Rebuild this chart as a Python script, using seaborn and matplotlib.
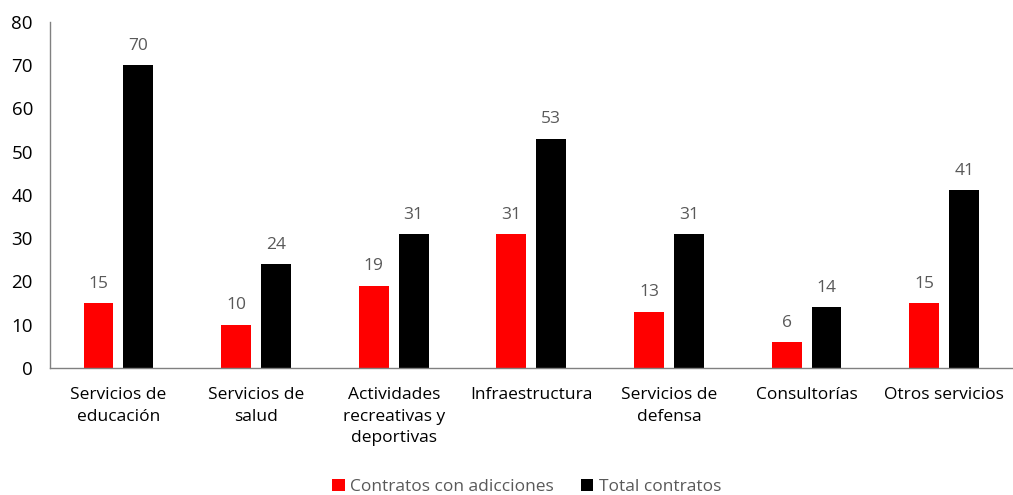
import pandas as pd
import matplotlib.pyplot as plt
import seaborn as sns

sns.set_style("white")
plt.rcParams['font.family'] = ['Open Sans', 'DejaVu Sans']

# data
categorias = ["Servicios de\neducación", "Servicios de\nsalud", "Actividades\nrecreativas y\ndeportivas",
              "Infraestructura", "Servicios de\ndefensa", "Consultorías", "Otros servicios"]
con_adicciones = [15, 10, 19, 31, 13, 6, 15]
total_contratos = [70, 24, 31, 53, 31, 14, 41]
series = ["Contratos con adicciones", "Total contratos"]

df = pd.DataFrame({
    "categoria": categorias * 2,
    "valor": con_adicciones + total_contratos,
    "serie": [series[0]] * len(categorias) + [series[1]] * len(categorias),
})

gray = "#595959"
fig = plt.figure(figsize=(10.13, 4.95), dpi=100)
ax = fig.add_axes([0.049, 0.257, 0.951, 0.699])

sns.barplot(data=df, x="categoria", y="valor", hue="serie", order=categorias,
            palette={series[0]: "#ff0000", series[1]: "#000000"},
            width=0.58, gap=0.25, saturation=1, linewidth=0, ax=ax, legend=True)

for cont in ax.containers:
    ax.bar_label(cont, padding=8, fontsize=12.5, color=gray)

ax.set_ylim(0, 80)
ax.set_yticks(range(0, 81, 10))
ax.set_xlim(-0.5, len(categorias) - 0.5)
ax.set_xlabel("")
ax.set_ylabel("")
ax.tick_params(axis="both", length=0, colors="black")
ax.tick_params(axis="x", pad=14, labelsize=12.5)
ax.tick_params(axis="y", pad=12, labelsize=13.5)
for lbl in ax.get_xticklabels():
    lbl.set_linespacing(1.45)
for s in ["top", "right"]:
    ax.spines[s].set_visible(False)
for s in ["left", "bottom"]:
    ax.spines[s].set_color("#808080")
    ax.spines[s].set_linewidth(1)

handles, labels = ax.get_legend_handles_labels()
ax.get_legend().remove()
leg = fig.legend(handles, labels, loc="center", bbox_to_anchor=(0.52, 0.016),
                 ncol=2, frameon=False, fontsize=12.5, handlelength=0.7, handleheight=0.7,
                 handletextpad=0.3, columnspacing=1.6, borderpad=0)
for t in leg.get_texts():
    t.set_color(gray)

fig.savefig("out.png", dpi=100)
